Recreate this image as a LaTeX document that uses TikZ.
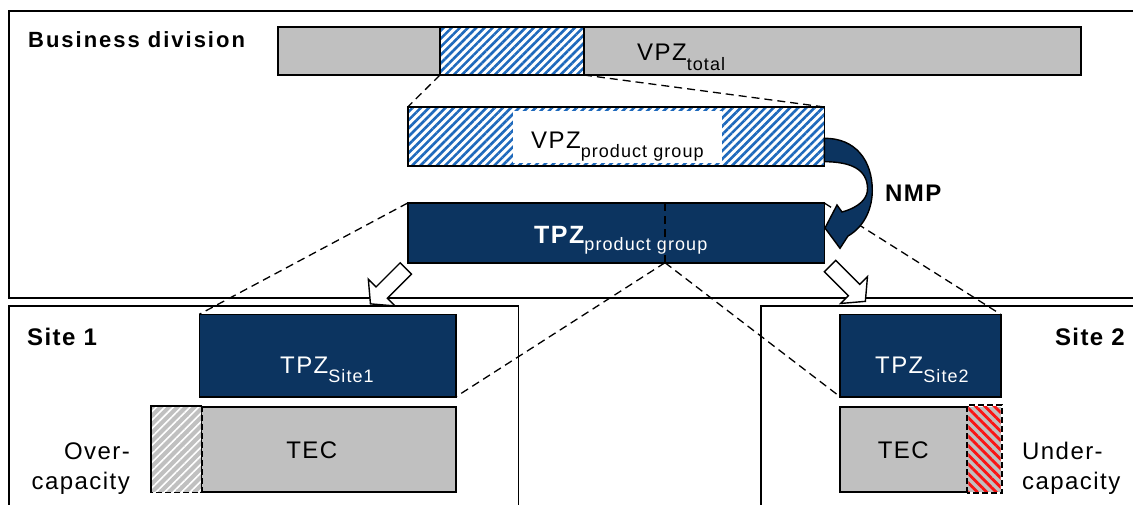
\documentclass[tikz,border=0pt]{standalone}
\usepackage{fontspec}
\setmainfont{Liberation Sans}
\newfontfamily\lab[LetterSpace=6]{Liberation Sans}
\usetikzlibrary{patterns.meta}
\definecolor{navy}{RGB}{12,52,96}
\definecolor{boxgrey}{RGB}{192,192,192}
\definecolor{hatchblue}{RGB}{30,105,188}
\definecolor{hatchred}{RGB}{250,20,20}
\newcommand{\lowtext}[2][9pt]{\raisebox{-#1}{\fontsize{18}{18}\selectfont #2}}
\begin{document}
\begin{tikzpicture}[x=1pt,y=-1pt,
  bar/.style={draw=black, line width=1.6pt, inner sep=0pt, outer sep=0pt},
  panel/.style={draw=black, line width=1.4pt},
  guide/.style={draw=black, line width=1.3pt, dash pattern=on 8pt off 5pt},
  edge dash/.style={draw=black, line width=1.8pt, dash pattern=on 6pt off 3pt},
  bluehatch/.style={preaction={fill=white}, pattern={Lines[angle=45,distance=5.8pt,line width=2.6pt]}, pattern color=hatchblue},
  greyhatch/.style={preaction={fill=boxgrey}, pattern={Lines[angle=45,distance=6pt,line width=1.6pt]}, pattern color=white},
  redhatch/.style={preaction={fill=boxgrey}, pattern={Lines[angle=-45,distance=6.6pt,line width=2.8pt]}, pattern color=hatchred},
  lbl/.style={inner sep=0pt, font=\lab\fontsize{24}{24}\selectfont},
  head/.style={inner sep=0pt, font=\lab\fontsize{24}{24}\selectfont\bfseries},
  blockarrow/.pic={\draw[line width=1.4pt, fill=white]
      (0pt,8pt) -- (34pt,8pt) -- (34pt,19pt) -- (50pt,0pt) -- (34pt,-19pt) -- (34pt,-8pt) -- (0pt,-8pt) -- cycle;}
]
\useasboundingbox (0,0) rectangle (1133,504);
\clip (0,0) rectangle (1133,504);

% panels: business division and the two sites
\draw[panel] (9,11) rectangle (1150,298);
\draw[panel] (9,306) rectangle (518.5,520);
\draw[panel] (761,306) rectangle (1150,520);

% business division bars
\node[bar, fill=boxgrey, minimum width=802.7pt, minimum height=48.3pt] (vpztot) at (679.35,50.85) {};
\node[bar, bluehatch, minimum width=144pt, minimum height=48.3pt] (vpzhatch) at (512,50.85) {};
\node[bar, bluehatch, minimum width=416.6pt, minimum height=59pt] (vpzpg) at (616,136.5) {};
\node[fill=white, inner sep=0pt, minimum width=209.4pt, minimum height=52pt] (vpzwhite) at (617.3,136.5) {};
\node[bar, fill=navy, minimum width=416.6pt, minimum height=59.7pt] (tpzpg) at (616,232.85) {};
\coordinate (tpzdivtop) at (665,203);
\coordinate (tpzdiv) at (665,262.7);
\draw[guide] (tpzdivtop) -- (tpzdiv);

% site 1
\node[bar, fill=navy, minimum width=256.7pt, minimum height=82.4pt] (tpzA) at (327.65,355.5) {};
\node[bar, fill=boxgrey, minimum width=255pt, minimum height=85pt] (tecA) at (328.5,449.2) {};
\node[greyhatch, inner sep=0pt, minimum width=49.3pt, minimum height=85pt] (overA) at (176.35,449.2) {};
\draw[line width=1.6pt] (overA.south west) -- (overA.north west) -- (overA.north east);
\draw[edge dash] (overA.north east) -- (overA.south east) -- (overA.south west);

% site 2
\node[bar, fill=navy, minimum width=160.7pt, minimum height=82.4pt] (tpzB) at (920.35,355.5) {};
\node[bar, fill=boxgrey, minimum width=128.3pt, minimum height=85pt] (tecB) at (904.15,449.2) {};
\node[redhatch, inner sep=0pt, minimum width=32.4pt, minimum height=85pt] (underB) at (984.5,449.2) {};
\draw[edge dash] (underB.south west) rectangle (underB.north east);

% zoom guides
\draw[guide] (vpzhatch.south west) -- (vpzpg.north west);
\draw[guide] (vpzhatch.south east) -- (vpzpg.north east);
\draw[guide] (tpzpg.north west) -- (tpzA.north west);
\draw[guide] (tpzdiv) -- (tpzA.south east);
\draw[guide] (tpzdiv) -- (tpzB.south west);
\draw[guide] (tpzpg.north east) -- (tpzB.north east);

% NMP curved arrow from VPZ to TPZ
\draw[line width=1.4pt, fill=navy]
  (824.3,138.3) .. controls (855,138) and (872.5,160) .. (872.3,191)
  .. controls (872,212) and (862,228) .. (848,236)
  -- (840,248.3) -- (825,228) -- (837,205) -- (842,212)
  .. controls (860,207) and (868,198) .. (867.5,188)
  .. controls (867,170) and (852,161.7) .. (824.3,161.7) -- cycle;

% allocation arrows to the sites
\pic[rotate=225] at (405.8,268.5) {blockarrow};
\pic[rotate=315] at (830,266) {blockarrow};

% labels
\node[head, anchor=base west, font=\lab\fontsize{22}{22}\selectfont\bfseries\addfontfeature{LetterSpace=9}] (biz) at (28,47) {Business division};
\node[head, anchor=base west] (siteA) at (27,345) {Site 1};
\node[head, anchor=base east] (siteB) at (1125,345) {Site 2};
\node[head, anchor=base west] (nmp) at (885,201) {NMP};
\node[lbl, anchor=base west] (vpztotlbl) at (637,60) {VPZ\lowtext[10pt]{total}};
\node[lbl, anchor=base west] (vpzpglbl) at (531,148) {VPZ\lowtext[9pt]{product group}};
\node[lbl, anchor=base west, text=white] (tpzpglbl) at (534,243) {{\fontsize{25}{25}\selectfont\bfseries TPZ}\lowtext[7pt]{product group}};
\node[lbl, anchor=base west, text=white] (tpzAlbl) at (280,373) {TPZ\lowtext[9pt]{Site1}};
\node[lbl, anchor=base west, text=white] (tpzBlbl) at (875,373) {TPZ\lowtext[9pt]{Site2}};
\node[lbl] (tecAlbl) at (311.7,450.5) {TEC};
\node[lbl] (tecBlbl) at (903.3,450.5) {TEC};
\node[lbl, anchor=base east] (overl1) at (130,459) {Over-};
\node[lbl, anchor=base east] (overl2) at (130,489) {capacity};
\node[lbl, anchor=base west] (underl1) at (1022,459) {Under-};
\node[lbl, anchor=base west] (underl2) at (1022,489) {capacity};
\end{tikzpicture}
\end{document}
